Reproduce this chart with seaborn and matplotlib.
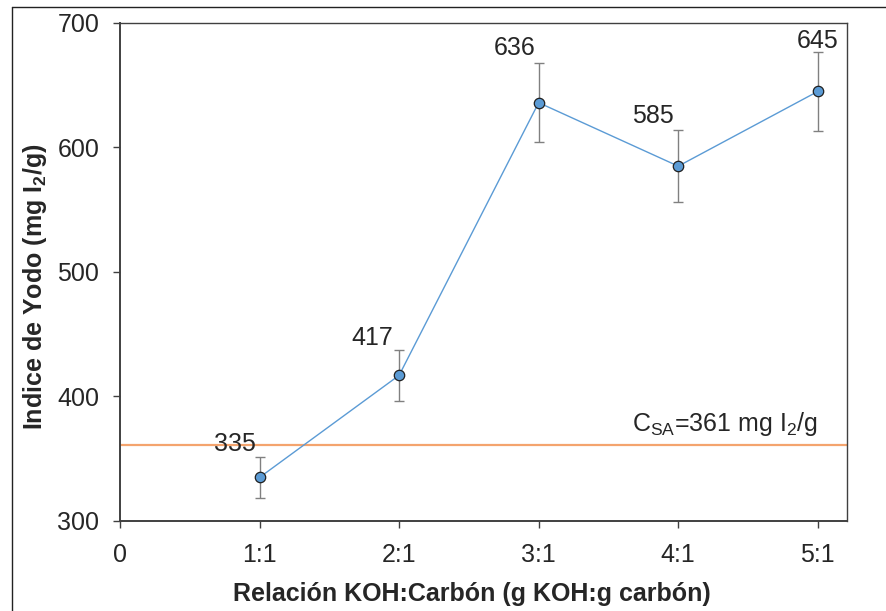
import numpy as np
import pandas as pd
import matplotlib
matplotlib.use("Agg")
import matplotlib.pyplot as plt
from matplotlib.lines import Line2D
import seaborn as sns

# data
RATIO = [1, 2, 3, 4, 5]
IODINE = [335, 417, 636, 585, 645]
ERROR = [16.5, 20.5, 31.5, 29, 32]
XTICKS = [0, 1, 2, 3, 4, 5]
XTICK_LABELS = ["0", "1:1", "2:1", "3:1", "4:1", "5:1"]
YTICKS = [300, 400, 500, 600, 700]
C_SA = 361

# label offsets in points (manual placement like the original)
LABEL_OFFSETS = [(-18, 24), (-19, 27), (-17, 39), (-18, 36), (0, 36)]

# ------------------------------------------------------------------------------
def main():
    sns.set_style("ticks")
    plt.rcParams["font.family"] = ["Liberation Sans", "DejaVu Sans"]
    plt.rcParams["mathtext.fontset"] = "custom"
    plt.rcParams["mathtext.rm"] = "Liberation Sans"
    plt.rcParams["mathtext.it"] = "Liberation Sans:italic"
    plt.rcParams["mathtext.bf"] = "Liberation Sans:bold"

    fig = plt.figure(figsize = (8.87, 6.11), dpi = 100)
    ax = fig.add_axes([0.1353, 0.1473, 0.955 - 0.1353, 0.9624 - 0.1473])

    df = pd.DataFrame({"ratio": RATIO, "iodine": IODINE, "err": ERROR})

    ### orange reference line
    ax.axhline(C_SA, color = "#F4A46E", linewidth = 1.6, zorder = 1)
    ax.text(5.0, C_SA + 6, r"C$_{\mathrm{SA}}$=361 mg I$_2$/g", ha = "right", va = "bottom",
            fontsize = 18, color = "#262626")

    ### error bars and series
    ax.errorbar(df["ratio"], df["iodine"], yerr = df["err"], fmt = "none",
                ecolor = "#808080", elinewidth = 1.0, capsize = 3.5, capthick = 1.0, zorder = 2)
    sns.lineplot(data = df, x = "ratio", y = "iodine", ax = ax, color = "#5B9BD5",
                 linewidth = 1.0, marker = "o", markersize = 7.5, markerfacecolor = "#5B9BD5",
                 markeredgecolor = "#1F1F1F", markeredgewidth = 0.9, zorder = 3)

    for x, y, off in zip(RATIO, IODINE, LABEL_OFFSETS):
        ax.annotate(str(y), (x, y), xytext = off, textcoords = "offset points",
                    ha = "center", va = "center", fontsize = 18, color = "#262626")

    ### axes
    ax.set_xlim(0, 5.21)
    ax.set_ylim(300, 700)
    ax.set_xticks(XTICKS)
    ax.set_xticklabels(XTICK_LABELS)
    ax.set_yticks(YTICKS)
    ax.tick_params(axis = "both", direction = "out", length = 5, width = 1.0,
                   color = "#404040", labelsize = 18, labelcolor = "#262626")
    ax.tick_params(axis = "x", pad = 11)
    ax.tick_params(axis = "y", pad = 10)
    for side in ["left", "bottom"]:
        ax.spines[side].set_color("#404040")
        ax.spines[side].set_linewidth(1.4)
    for side in ["top", "right"]:
        ax.spines[side].set_color("#404040")
        ax.spines[side].set_linewidth(1.0)

    ax.set_xlabel("Relación KOH:Carbón (g KOH:g carbón)", fontsize = 18, fontweight = "bold",
                  color = "#262626")
    ax.set_ylabel(r"Indice de Yodo (mg $\mathbf{I_2}$/g)", fontsize = 18, fontweight = "bold",
                  color = "#262626")
    ax.xaxis.set_label_coords(0.4835, -0.122)
    ax.yaxis.set_label_coords(-0.097, 0.47)

    ### partial frame around the figure
    fig.add_artist(Line2D([0.0135, 1.0], [0.988, 0.988], transform = fig.transFigure,
                          color = "#222222", linewidth = 1.0))
    fig.add_artist(Line2D([0.0135, 0.0135], [0.0, 0.988], transform = fig.transFigure,
                          color = "#222222", linewidth = 1.0))

    fig.savefig("out.png", dpi = 100)


################################################################################
if __name__ == "__main__":
    main()
